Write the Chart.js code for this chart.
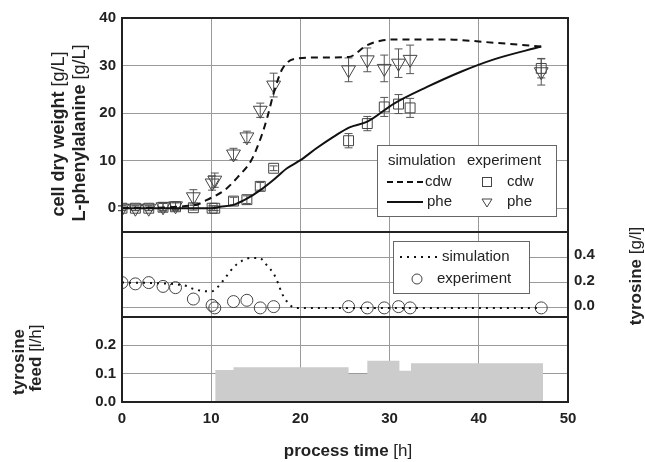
<!DOCTYPE html>
<html>
<head>
<meta charset="utf-8">
<script src="https://cdn.jsdelivr.net/npm/chart.js@4"></script>
<style>
  html, body { margin: 0; padding: 0; background: #fff; }
</style>
</head>
<body>
<canvas id="chart" width="645" height="462"></canvas>
<script>
// sampling times of the experiment (h)
const expTime = [0, 1.5, 3, 4.6, 6, 8, 10.1, 10.4, 12.5, 14, 15.5, 17, 25.4, 27.5, 29.4, 31, 32.3, 47];
const cdwExp = [0, 0, 0, 0.2, 0.3, 0.1, 0, 0, 1.5, 1.8, 4.6, 8.4, 14.2, 17.8, 21.3, 21.9, 21.1, 29.4];
const cdwErr = [0.5, 0.5, 0.5, 0.8, 0.8, 0.5, 0.5, 0.5, 0.8, 0.8, 0.8, 0.5, 1.5, 1.5, 2, 2, 2, 2];
const pheExp = [0, 0, 0, 0.3, 0.5, 2.4, 5.3, 5.9, 11.4, 15.0, 20.6, 25.9, 29.1, 31.2, 29.4, 30.5, 31.3, 28.7];
const pheErr = [0.5, 0.5, 0.5, 0.8, 0.8, 1.5, 1.5, 1.5, 1.2, 1.2, 1.5, 2.5, 2.5, 2.5, 2.8, 3, 3, 2.8];
const tyrExp = [0.2, 0.19, 0.2, 0.17, 0.16, 0.07, 0.02, 0.0, 0.05, 0.06, 0.0, 0.01, 0.01, 0.0, 0.0, 0.01, 0.0, 0.0];

// simulation curves
const cdwSimTime = [0, 8, 10, 11.5, 13, 14.5, 15.6, 16.3, 17.1, 18, 19.7, 22, 25.4, 27.5, 29, 31, 36, 41.7, 47];
const cdwSim = [0, 0.6, 2.2, 3.8, 6.6, 10.1, 15, 19.2, 24.8, 29.4, 31.5, 31.7, 31.8, 34.3, 35.2, 35.5, 35.5, 34.8, 34];
const pheSimTime = [0, 10, 11, 12.5, 14, 15.5, 17, 18.5, 20, 21.8, 23.7, 25.5, 27.5, 30.5, 34.2, 38, 41.7, 47];
const pheSim = [0, 0, 0.3, 0.7, 2.0, 3.8, 6.0, 8.4, 10.1, 12.6, 15, 17, 18.2, 22, 25.5, 28.7, 31.3, 34];
const tyrSimTime = [0, 4, 7.4, 8, 10, 10.8, 11.7, 12.5, 13.4, 14.4, 15.4, 16.2, 17, 17.5, 17.9, 18.5, 19.4, 47];
const tyrSim = [0.2, 0.195, 0.17, 0.15, 0.13, 0.17, 0.25, 0.32, 0.37, 0.395, 0.395, 0.34, 0.27, 0.195, 0.12, 0.05, 0, 0];

// tyrosine feed steps (start time, rate)
const feedTime = [10.45, 12.5, 25.4, 27.5, 31.1, 32.4, 47.2];
const feedRate = [0.113, 0.123, 0.099, 0.146, 0.11, 0.137, 0];

const topTicks = [0, 10, 20, 30, 40];
const tyrTicks = [0, 0.2, 0.4];
const feedTicks = [0, 0.1, 0.2];

const FONT = "'Liberation Sans', Arial, sans-serif";
const B = "bold 17px " + FONT;
const R = "17px " + FONT;
const B18 = "bold 18px " + FONT;
const R18 = "18px " + FONT;
const pts = (xs, ys) => xs.map((x, i) => ({ x: x, y: ys[i] }));

function mixed(ctx, parts, cx, cy, rot) {
  ctx.save();
  ctx.translate(cx, cy);
  ctx.rotate(rot);
  ctx.textBaseline = "middle";
  ctx.textAlign = "left";
  let w = 0;
  parts.forEach(([t, f]) => { ctx.font = f; w += ctx.measureText(t).width; });
  let x = -w / 2;
  parts.forEach(([t, f]) => { ctx.font = f; ctx.fillText(t, x, 0); x += ctx.measureText(t).width; });
  ctx.restore();
}

function tri(ctx, x, y, r) {
  ctx.beginPath();
  ctx.moveTo(x - r, y - r * 0.6);
  ctx.lineTo(x + r, y - r * 0.6);
  ctx.lineTo(x, y + r);
  ctx.closePath();
  ctx.stroke();
}

const extras = {
  id: "extras",
  beforeDatasetsDraw(chart) {
    const { ctx } = chart;
    const x = chart.scales.x, y = chart.scales.y;
    ctx.save();
    ctx.strokeStyle = "#555";
    ctx.lineWidth = 1;
    [[cdwExp, cdwErr], [pheExp, pheErr]].forEach(([v, e]) => {
      expTime.forEach((t, i) => {
        const px = x.getPixelForValue(t);
        const lo = y.getPixelForValue(v[i] - e[i]);
        const hi = y.getPixelForValue(v[i] + e[i]);
        ctx.beginPath();
        ctx.moveTo(px, lo); ctx.lineTo(px, hi);
        ctx.moveTo(px - 4, lo); ctx.lineTo(px + 4, lo);
        ctx.moveTo(px - 4, hi); ctx.lineTo(px + 4, hi);
        ctx.stroke();
      });
    });
    ctx.restore();
  },
  afterDraw(chart) {
    const { ctx, chartArea: a } = chart;
    const y2 = chart.scales.y2, y3 = chart.scales.y3;
    ctx.save();

    // frame + panel separators
    ctx.strokeStyle = "#222";
    ctx.lineWidth = 2;
    ctx.strokeRect(a.left, a.top, a.right - a.left, a.bottom - a.top);
    [y2.top, y3.top].forEach(py => {
      ctx.beginPath(); ctx.moveTo(a.left, py); ctx.lineTo(a.right, py); ctx.stroke();
    });

    // right tick labels of the tyrosine panel
    ctx.fillStyle = "#222";
    ctx.font = "bold 15px " + FONT;
    ctx.textAlign = "left";
    ctx.textBaseline = "middle";
    tyrTicks.forEach(v => ctx.fillText(v.toFixed(1), a.right + 6, y2.getPixelForValue(v) - 2));

    // axis titles
    mixed(ctx, [["cell dry weight ", B18], ["[g/L]", R18]], 59, 134, -Math.PI / 2);
    mixed(ctx, [["L-phenylalanine ", B18], ["[g/L]", R18]], 80, 133, -Math.PI / 2);
    mixed(ctx, [["tyrosine ", B], ["[g/l]", R]], 636, 276, -Math.PI / 2);
    mixed(ctx, [["tyrosine", B]], 19, 362, -Math.PI / 2);
    mixed(ctx, [["feed ", B], ["[l/h]", R]], 36, 358, -Math.PI / 2);
    mixed(ctx, [["process time ", B], ["[h]", R]], 348, 451, 0);

    // legend, top panel
    ctx.lineWidth = 1;
    ctx.strokeStyle = "#666";
    ctx.fillStyle = "#fff";
    ctx.fillRect(377, 145, 179, 71);
    ctx.strokeRect(377.5, 145.5, 179, 71);
    ctx.fillStyle = "#222";
    ctx.font = "15px " + FONT;
    ctx.fillText("simulation", 388, 161);
    ctx.fillText("experiment", 467, 161);
    ctx.fillText("cdw", 425, 182);
    ctx.fillText("cdw", 507, 182);
    ctx.fillText("phe", 427, 202);
    ctx.fillText("phe", 507, 202);
    ctx.strokeStyle = "#111";
    ctx.lineWidth = 2;
    ctx.setLineDash([6, 4]);
    ctx.beginPath(); ctx.moveTo(387, 182); ctx.lineTo(423, 182); ctx.stroke();
    ctx.setLineDash([]);
    ctx.beginPath(); ctx.moveTo(387, 202); ctx.lineTo(423, 202); ctx.stroke();
    ctx.strokeStyle = "#444";
    ctx.lineWidth = 1;
    ctx.strokeRect(482.5, 177.5, 9, 9);
    tri(ctx, 487, 202, 5);

    // legend, tyrosine panel
    ctx.strokeStyle = "#666";
    ctx.fillStyle = "#fff";
    ctx.fillRect(393, 241, 136, 52);
    ctx.strokeRect(393.5, 241.5, 136, 52);
    ctx.fillStyle = "#222";
    ctx.fillText("simulation", 442, 257);
    ctx.fillText("experiment", 437, 279);
    ctx.strokeStyle = "#111";
    ctx.lineWidth = 2;
    ctx.setLineDash([2, 5]);
    ctx.beginPath(); ctx.moveTo(400, 257); ctx.lineTo(439, 257); ctx.stroke();
    ctx.setLineDash([]);
    ctx.strokeStyle = "#444";
    ctx.lineWidth = 1;
    ctx.beginPath(); ctx.arc(417, 279, 5, 0, Math.PI * 2); ctx.stroke();

    ctx.restore();
  }
};

const tickFont = { family: FONT, size: 15, weight: "bold" };
const gridColor = "#9a9a9a";

new Chart(document.getElementById("chart"), {
  type: "line",
  data: {
    datasets: [
      {
        data: pts(cdwSimTime, cdwSim), yAxisID: "y",
        borderColor: "#111", borderWidth: 2, borderDash: [7, 5],
        pointRadius: 0, cubicInterpolationMode: "monotone",
      },
      {
        data: pts(pheSimTime, pheSim), yAxisID: "y",
        borderColor: "#111", borderWidth: 2,
        pointRadius: 0, cubicInterpolationMode: "monotone",
      },
      {
        data: pts(expTime, cdwExp), yAxisID: "y", showLine: false,
        pointStyle: "rect", pointRadius: 7, pointBorderWidth: 1,
        pointBorderColor: "#444", pointBackgroundColor: "rgba(0,0,0,0)",
      },
      {
        data: pts(expTime, pheExp), yAxisID: "y", showLine: false,
        pointStyle: "triangle", rotation: 180, pointRadius: 8, pointBorderWidth: 1,
        pointBorderColor: "#444", pointBackgroundColor: "rgba(0,0,0,0)",
      },
      {
        data: pts(tyrSimTime, tyrSim), yAxisID: "y2",
        borderColor: "#111", borderWidth: 2, borderDash: [2, 5],
        pointRadius: 0, cubicInterpolationMode: "monotone",
      },
      {
        data: pts(expTime, tyrExp), yAxisID: "y2", showLine: false,
        pointStyle: "circle", pointRadius: 6, pointBorderWidth: 1,
        pointBorderColor: "#444", pointBackgroundColor: "rgba(0,0,0,0)",
      },
      {
        // each rate holds from its start time to the next one
        data: pts(feedTime, feedRate), yAxisID: "y3",
        stepped: "before", fill: "origin",
        backgroundColor: "#cccccc", borderWidth: 0, pointRadius: 0,
      },
    ],
  },
  options: {
    responsive: false,
    animation: false,
    layout: { padding: { left: 82, right: 77, top: 18, bottom: 0 } },
    plugins: { legend: { display: false }, tooltip: { enabled: false } },
    scales: {
      x: {
        type: "linear", min: 0, max: 50,
        ticks: { stepSize: 10, font: tickFont, color: "#222", padding: 8 },
        grid: { color: gridColor, drawTicks: false },
        border: { display: false },
        afterFit: s => { s.height = 60; },
      },
      // left-side stacked axes are placed in reverse order: bottom panel first
      y3: {
        type: "linear", position: "left", stack: "panels", stackWeight: 85,
        min: 0, max: 0.3,
        afterBuildTicks: s => { s.ticks = feedTicks.map(v => ({ value: v })); },
        ticks: { font: tickFont, color: "#222", padding: 6, callback: v => v.toFixed(1) },
        grid: { color: gridColor, drawTicks: false },
        border: { display: false },
        afterFit: s => { s.width = 40; },
      },
      y2: {
        type: "linear", position: "left", stack: "panels", stackWeight: 85,
        min: -0.072, max: 0.6,
        afterBuildTicks: s => { s.ticks = tyrTicks.map(v => ({ value: v })); },
        ticks: { display: false },
        grid: { color: gridColor, drawTicks: false },
        border: { display: false },
        afterFit: s => { s.width = 40; },
      },
      y: {
        type: "linear", position: "left", stack: "panels", stackWeight: 214,
        min: -5, max: 40,
        afterBuildTicks: s => { s.ticks = topTicks.map(v => ({ value: v })); },
        ticks: { font: tickFont, color: "#222", padding: 6 },
        grid: { color: gridColor, drawTicks: false },
        border: { display: false },
        afterFit: s => { s.width = 40; },
      },
    },
  },
  plugins: [extras],
});
</script>
</body>
</html>
